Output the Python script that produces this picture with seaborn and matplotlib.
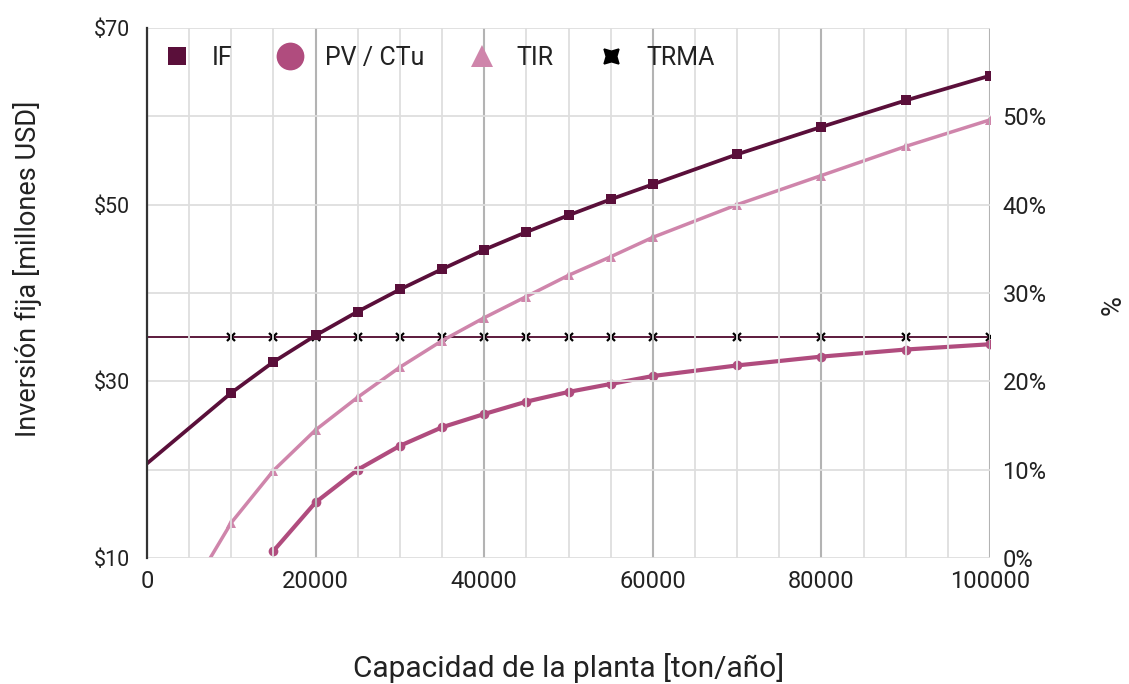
import matplotlib
matplotlib.use("Agg")
import matplotlib.pyplot as plt
from matplotlib.lines import Line2D
from matplotlib.ticker import MultipleLocator, FuncFormatter
import seaborn as sns
import pandas as pd

# ---- data ----
if_x = [0, 10000, 15000, 20000, 25000, 30000, 35000, 40000, 45000, 50000,
        55000, 60000, 70000, 80000, 90000, 100000]
if_y = [20.7, 28.7, 32.2, 35.2, 37.9, 40.4, 42.7, 44.9, 46.9, 48.8,
        50.6, 52.3, 55.7, 58.8, 61.8, 64.6]

tir_x = [5000, 10000, 15000, 20000, 25000, 30000, 35000, 40000, 45000, 50000,
         55000, 60000, 70000, 80000, 90000, 100000]
tir_y = [-4.0, 4.0, 9.9, 14.5, 18.2, 21.6, 24.6, 27.2, 29.6, 32.0,
         34.1, 36.3, 40.0, 43.3, 46.6, 49.6]

pv_x = [15000, 20000, 25000, 30000, 35000, 40000, 45000, 50000,
        55000, 60000, 70000, 80000, 90000, 100000]
pv_y = [0.8, 6.3, 10.0, 12.7, 14.8, 16.3, 17.7, 18.8,
        19.7, 20.6, 21.8, 22.8, 23.6, 24.2]

trma_x = [0, 10000, 15000, 20000, 25000, 30000, 35000, 40000, 45000, 50000,
          55000, 60000, 70000, 80000, 90000, 100000]
trma_y = [25] * len(trma_x)

x_ticks = [0, 20000, 40000, 60000, 80000, 100000]
left_ticks = [10, 30, 50, 70]
right_ticks = [0, 10, 20, 30, 40, 50]
labels = ["IF", "PV / CTu", "TIR", "TRMA"]

C_IF = "#5a0f3a"
C_PV = "#b04c7e"
C_TIR = "#cf85ab"
C_TRMA = "#5c1a3c"
TXT = "#222222"

sns.set_theme(style="white")
plt.rcParams["font.family"] = ["Roboto", "DejaVu Sans"]

fig = plt.figure(figsize=(11.29, 6.84), dpi=100)
ax = fig.add_axes([147 / 1129, 1 - 558 / 684, (990 - 147) / 1129, (558 - 28) / 684])
ax2 = ax.twinx()

ax.set_xlim(0, 100000)
ax.set_ylim(10, 70)
ax2.set_ylim(0, 60)

# grid
ax.xaxis.set_major_locator(MultipleLocator(20000))
ax.xaxis.set_minor_locator(MultipleLocator(5000))
ax.yaxis.set_major_locator(MultipleLocator(20))
ax.yaxis.set_minor_locator(MultipleLocator(10))
ax2.grid(False)
ax.grid(which="minor", axis="both", color="#dedede", linewidth=1.3)
ax.grid(which="major", axis="y", color="#dedede", linewidth=1.3)
ax.grid(which="major", axis="x", color="#b3b3b3", linewidth=1.5)
ax.set_axisbelow(True)

for s in ["top", "right", "bottom"]:
    ax.spines[s].set_visible(False)
    ax2.spines[s].set_visible(False)
ax2.spines["left"].set_visible(False)
ax.spines["left"].set_color("#333333")
ax.spines["left"].set_linewidth(1.6)
ax.spines["left"].set_zorder(5)

# series
df_if = pd.DataFrame({"x": if_x, "y": if_y})
df_tir = pd.DataFrame({"x": tir_x, "y": tir_y})
df_pv = pd.DataFrame({"x": pv_x, "y": pv_y})
df_trma = pd.DataFrame({"x": trma_x, "y": trma_y})

# background axis (right, %) carries the gridlines' twin; draw % series on ax2
sns.lineplot(data=df_trma, x="x", y="y", ax=ax2, color=C_TRMA, linewidth=1.4,
             marker="x", markersize=5.5, markerfacecolor="black",
             markeredgecolor="black", markeredgewidth=1.6,
             markevery=list(range(1, len(trma_x))), zorder=3)
sns.lineplot(data=df_tir, x="x", y="y", ax=ax2, color=C_TIR, linewidth=2.5,
             marker="^", markersize=7, markeredgewidth=0,
             markevery=list(range(1, len(tir_x))), zorder=4)
sns.lineplot(data=df_pv, x="x", y="y", ax=ax2, color=C_PV, linewidth=3.0,
             marker="o", markersize=7, markeredgewidth=0, zorder=4)
sns.lineplot(data=df_if, x="x", y="y", ax=ax, color=C_IF, linewidth=2.7,
             marker="s", markersize=7, markeredgewidth=0,
             markevery=list(range(1, len(if_x))), zorder=5)
ax.set_zorder(ax2.get_zorder() + 1)
ax.patch.set_visible(False)

# ticks
ax.set_xticks(x_ticks)
ax.set_xticklabels([str(v) for v in x_ticks])
ax.set_yticks(left_ticks)
ax.yaxis.set_major_formatter(FuncFormatter(lambda v, p: f"${v:.0f}"))
ax2.set_yticks(right_ticks)
ax2.yaxis.set_major_formatter(FuncFormatter(lambda v, p: f"{v:.0f}%"))
ax.tick_params(axis="both", which="both", length=0, colors=TXT)
ax.tick_params(axis="y", labelsize=15.5, pad=12)
ax.tick_params(axis="x", labelsize=17, pad=9)
ax2.tick_params(axis="y", length=0, labelsize=17, colors=TXT, pad=9)

ax.set_xlabel("Capacidad de la planta [ton/año]", fontsize=21.5, color=TXT)
ax.set_ylabel("Inversión fija [millones USD]", fontsize=19.5, color=TXT)
ax2.set_ylabel("%", fontsize=19.5, color=TXT)
ax.xaxis.set_label_coords(0.5, -(668 - 558) / 530)
ax.xaxis.label.set_va("center")
ax.yaxis.set_label_coords(-119 / 843, (558 - 269) / 530)
ax.yaxis.label.set_va("center")
ax2.yaxis.set_label_coords((1113 - 147) / 843, (558 - 305) / 530)
ax2.yaxis.label.set_va("center")

handles = [
    Line2D([], [], linestyle="none", marker="s", markersize=13, color=C_IF, markeredgewidth=0),
    Line2D([], [], linestyle="none", marker="o", markersize=20, color=C_PV, markeredgewidth=0),
    Line2D([], [], linestyle="none", marker="^", markersize=16, color=C_TIR, markeredgewidth=0),
    Line2D([], [], linestyle="none", marker=(4, 1, 45), markersize=15, color="black", markeredgewidth=1.2),
]
fs_leg = 18
fig.legend(handles, labels, loc="center left",
           bbox_to_anchor=(164 / 1129, 1 - 58 / 684), ncol=4, frameon=False,
           fontsize=fs_leg, handletextpad=0.9, columnspacing=1.8, handlelength=1.0,
           borderpad=0, borderaxespad=0, labelcolor=TXT)

fig.savefig("out.png", dpi=100)
